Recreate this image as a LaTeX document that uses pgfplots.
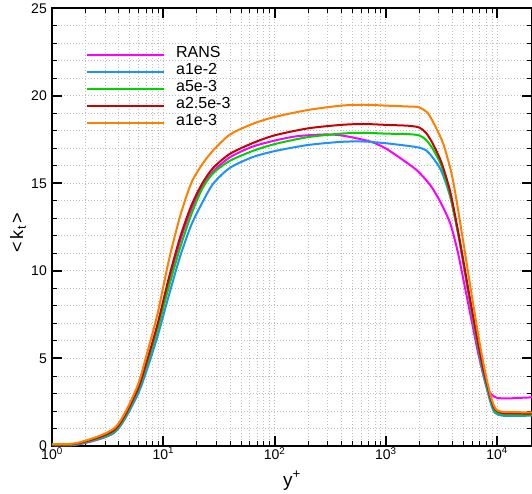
\documentclass[border=0pt]{standalone}
\usepackage{graphicx}
\usepackage{pgfplots}
\pgfplotsset{compat=1.18}
\usepackage{fontspec}
\setmainfont{Liberation Sans}
\definecolor{cM}{RGB}{255,0,255}
\definecolor{cB}{RGB}{30,144,255}
\definecolor{cG}{RGB}{0,210,0}
\definecolor{cR}{RGB}{204,0,0}
\definecolor{cO}{RGB}{255,128,0}
\begin{document}
\begin{tikzpicture}
\begin{axis}[
  scale only axis, width=480bp, height=437.5bp,
  xmode=log, xmin=1, xmax=20600, ymin=0, ymax=25,
  xtick={1,10,100,1000,10000},
  xticklabels={10\textsuperscript{0},10\textsuperscript{1},10\textsuperscript{2},10\textsuperscript{3},10\textsuperscript{4}},
  ytick={0,5,10,15,20,25}, yticklabels={0,5,10,15,20,25},
  minor y tick num=4,
  tick align=inside,
  major tick length=10bp, minor tick length=5bp,
  every major tick/.style={line width=2bp, black},
  every minor tick/.style={line width=1bp, black},
  axis line style={line width=2bp},
  grid=both,
  major grid style={black!25, dash pattern=on 1bp off 2bp, line width=1bp},
  minor grid style={black!25, dash pattern=on 1bp off 2bp, line width=1bp},
  tick label style={font=\fontsize{14bp}{16bp}\selectfont},
  xticklabel style={inner sep=0pt, anchor=north, yshift=-1bp},
  yticklabel style={inner sep=0pt, anchor=east, xshift=-5bp},
  xlabel={y\textsuperscript{+}},
  xlabel style={font=\fontsize{19bp}{21bp}\selectfont, inner sep=0pt, at={(axis description cs:0.5,0)}, anchor=north, yshift=-25bp},
  legend style={draw=none, fill=none, at={(axis description cs:0.0708,0.914)}, anchor=north west,
     font=\fontsize{16bp}{18bp}\selectfont, row sep=0pt, inner sep=0pt,
     nodes={inner sep=0pt, text height=11.5bp, text depth=5.5bp}},
  legend cell align=left,
  legend image code/.code={\draw[#1, line width=2bp] (0bp,0bp) -- (77bp,0bp);},
  every axis plot/.append style={line width=2bp, smooth, tension=0.45},
]
\coordinate (ll) at (rel axis cs:0,0);
\coordinate (yl) at (axis description cs:-0.054,0.488);
\addplot[cM] coordinates {(1,0.05)(1.698,0.08)(3.681,0.8)(5.754,2.9)(7.079,4.6)(8.913,6.8)(11.22,9.4)(14.13,11.7)(17.78,13.5)(22.39,14.8)(28.18,15.7)(39.81,16.5)(63.10,17.1)(100,17.45)(158.5,17.7)(275.4,17.8)(398.1,17.75)(724.4,17.4)(1000,17.0)(1349,16.45)(1905,15.75)(2512,14.9)(3090,13.95)(3802,12.7)(4467,11.0)(5129,9.1)(5888,7.2)(6761,5.3)(7943,3.5)(8913,2.95)(10000,2.75)(12589,2.72)(15849,2.75)(20893,2.78)};
\addlegendentry{\hspace{11bp}RANS}
\addplot[cB] coordinates {(1,0.06)(1.698,0.1)(3.681,0.8)(5.754,2.8)(7.079,4.3)(8.913,6.3)(11.22,8.6)(14.13,10.8)(17.78,12.6)(22.39,13.9)(28.18,15.0)(39.81,15.9)(63.10,16.5)(100,16.85)(199.5,17.2)(398.1,17.38)(631.0,17.4)(1000,17.3)(1585,17.15)(1995,17.05)(2291,16.9)(2630,16.5)(3162,15.7)(3802,14.2)(4571,11.8)(5495,8.8)(6607,5.9)(7586,4.0)(8710,2.5)(9550,1.9)(11220,1.73)(15849,1.72)(20893,1.74)};
\addlegendentry{\hspace{11bp}a1e-2}
\addplot[cG] coordinates {(1,0.08)(1.698,0.12)(3.681,0.88)(5.754,3.0)(7.079,4.6)(8.913,6.7)(11.22,9.1)(14.13,11.3)(17.78,13.2)(22.39,14.7)(28.18,15.6)(39.81,16.3)(63.10,16.85)(100,17.25)(199.5,17.65)(398.1,17.85)(631.0,17.9)(1000,17.85)(1585,17.82)(1995,17.75)(2291,17.5)(2630,17.0)(3162,16.0)(3802,14.3)(4571,11.8)(5495,8.9)(6607,6.0)(7586,4.2)(8710,2.7)(9550,2.0)(11220,1.82)(15849,1.8)(20893,1.8)};
\addlegendentry{\hspace{11bp}a5e-3}
\addplot[cR] coordinates {(1,0.1)(1.698,0.15)(3.681,0.95)(5.754,3.1)(7.079,4.8)(8.913,7.0)(11.22,9.6)(14.13,11.9)(17.78,13.7)(22.39,15.0)(28.18,15.9)(39.81,16.7)(63.10,17.3)(100,17.75)(199.5,18.15)(398.1,18.35)(631.0,18.4)(1000,18.35)(1585,18.3)(1995,18.2)(2291,17.9)(2630,17.3)(3162,16.2)(3802,14.5)(4571,11.9)(5495,9.0)(6607,6.2)(7586,4.3)(8710,2.8)(9550,2.1)(11220,1.88)(15849,1.86)(20893,1.85)};
\addlegendentry{\hspace{11bp}a2.5e-3}
\addplot[cO] coordinates {(1,0.12)(1.698,0.18)(3.681,1.05)(5.754,3.3)(7.079,5.2)(8.913,7.6)(11.22,10.6)(14.13,13.1)(17.78,15.0)(22.39,16.1)(28.18,16.9)(39.81,17.8)(63.10,18.4)(100,18.8)(199.5,19.2)(398.1,19.45)(631.0,19.5)(1000,19.45)(1585,19.4)(1995,19.35)(2399,19.0)(2818,18.2)(3311,17.2)(3981,15.3)(4786,12.3)(5754,9.1)(6918,6.0)(7943,4.0)(8913,2.7)(9772,2.1)(11220,1.95)(15849,1.93)(20893,1.92)};
\addlegendentry{\hspace{11bp}a1e-3}
\end{axis}
\node[anchor=east, inner sep=0pt, font=\fontsize{18bp}{20bp}\selectfont] at (yl) {\rotatebox{90}{<\kern2bp k\kern1bp\textsubscript{t}\kern2bp>}};
\pgfresetboundingbox
\useasboundingbox (ll) ++(-52bp,-48bp) rectangle ++(532bp,494bp);
\end{tikzpicture}
\end{document}
